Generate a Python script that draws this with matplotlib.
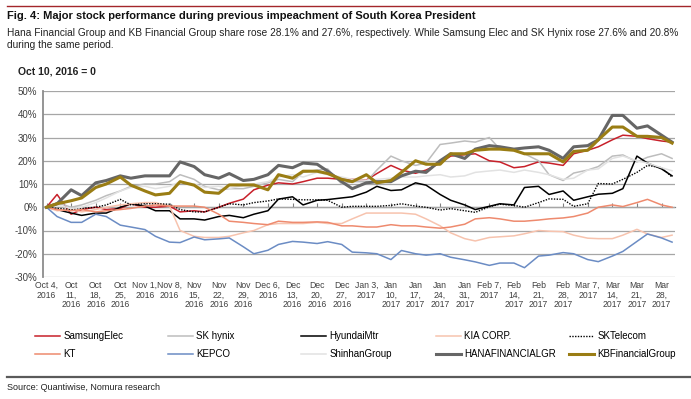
import pandas as pd
import matplotlib
matplotlib.use("Agg")
import matplotlib.pyplot as plt
import matplotlib.dates as mdates
from matplotlib.lines import Line2D

plt.rcParams['font.family'] = ['Liberation Sans', 'DejaVu Sans']
NARROW = ['Liberation Sans Narrow', 'Liberation Sans', 'DejaVu Sans']

# Datos muestreados martes y viernes (Oct 4, 2016 - Mar 31, 2017), % vs base
tuesdays = pd.date_range('2016-10-04', '2017-03-28', freq='W-TUE')
dates = tuesdays.append(tuesdays + pd.Timedelta(days=3)).sort_values()

samsung = [0, 5.5, -3, -1, 0, -1, -0.5, 1.5, 0, 0, 0.5, -2, -1.5, -2, 0, 1.7, 3.5, 7.5, 9.5, 10.5,
           10, 11, 12.5, 12.5, 12, 12, 11.7, 14.5, 18, 16, 14.6, 16, 19, 22, 22.6, 23, 20, 19.5, 17, 17.5,
           19.5, 19, 18, 23, 24.5, 26, 29, 31, 30.5, 29.5, 28.5, 28]
skhynix = [0, 2, 0, 1, 3, 5, 7, 9, 10, 10, 11, 14, 12, 9, 7.5, 8, 8, 9, 10.5, 12,
           11, 15, 16, 16.5, 10, 11, 11, 16, 22, 20, 18, 19, 27, 27.6, 28.5, 28, 30, 25, 24.5, 23,
           20, 14, 11.5, 14.7, 16, 17.5, 22, 22.5, 19.5, 21.5, 23, 21]
hyundai = [0, -1, -2.5, -3.5, -2.5, -2.5, 0, 1.5, 0.5, -1.5, -1.5, -5, -5, -5.5, -4, -3.5, -4.5, -3, -1.5, 3.5,
           4.5, 1, 3, 3.3, 4, 4.5, 6.5, 9, 7.2, 7.5, 10.5, 9.5, 5.5, 3, 1, -1, 0.4, 1.5, 1, 8.5,
           9, 5.5, 7, 3, 4.5, 5.6, 6, 8, 22, 19, 16.5, 13.5]
kia = [0, -1.5, -1, -2, -1, 0, 1, 1.5, 2, 2, 0.5, -10, -12.5, -13, -13, -12.5, -11, -10, -7.5, -7,
       -7, -7, -6.5, -7, -7, -5, -2.5, -2.5, -2.5, -2.5, -3, -5, -8, -11, -13.5, -14.5, -13, -12.7, -12.3, -11.4,
       -10, -10.3, -10.5, -12, -13.3, -13.5, -13.5, -12, -9.5, -11.5, -13, -12]
sktelecom = [0, -0.5, -1, -0.5, 0, 1, 3.4, 1, 1.5, 1.5, 1.3, -1, -2, -2, 0, 1.5, 1, 2, 2.7, 3.6,
             3.4, 3.2, 3.2, 3, 0, 0.4, 0.4, 0.4, 0.8, 1.5, 0.5, 0, -1.2, -0.6, -1.5, -2.2, 0.2, 1.3, 0.8, 0,
             2, 3.6, 3.4, 0.4, 1.5, 10.2, 10, 12, 15, 18, 17, 13]
kt = [0, -1, -1.5, -1, -2, -1.5, -1, -0.5, 0.5, 1, 0.5, 0.5, 0.5, 0, -3, -6, -6.5, -7, -7.5, -6,
      -6.5, -6.5, -6.3, -6.5, -8, -8, -8.5, -8.5, -7.5, -8, -8, -8.5, -9, -8.5, -7.3, -5, -4.5, -5, -6, -6,
      -5.5, -5, -4.6, -4, -2.5, 0, 1, 0.3, 2, 3.4, 1, 0]
kepco = [0, -4, -6.5, -6.5, -3, -4, -7.7, -8.5, -9.6, -12.5, -15, -15.2, -12.8, -14, -13.6, -13.2, -17, -20, -18.5, -16,
         -14.7, -15, -15.6, -14.8, -16, -19.3, -19.6, -20, -22.5, -18.6, -20, -20.6, -20, -21.5, -22.6, -23.5, -25, -24, -24, -26,
         -21, -20.6, -19.5, -20, -22.5, -23.4, -21, -19, -14.7, -11.5, -13.2, -15]
shinhan = [0, 1, -0.5, 0, 2, 4, 7, 8.5, 9, 8, 9, 11, 10, 8.5, 9, 8, 9.5, 10, 11, 13,
           14, 13, 15, 14, 13, 12, 11.6, 12, 12.5, 13, 13, 13.5, 14, 13, 13.5, 15, 15.6, 16, 15, 16,
           15, 14, 12, 12.5, 16, 16.5, 21, 22, 20, 19, 17, 15.7]
hana = [0, 1.5, 7.5, 5, 10.5, 11.5, 13.5, 12.5, 13.5, 13.5, 13.5, 19.5, 17.5, 14, 12.5, 14.5, 11.5, 12, 14, 18,
        17, 19, 18.5, 15.5, 11, 8, 10.5, 11, 11, 13.5, 15.5, 15, 20, 23, 21, 25, 26.5, 26, 25, 25.5,
        26, 24.5, 21, 26, 26.5, 29, 39.5, 39.5, 34, 35, 31, 28]
kb = [0, 1.5, 2.8, 4, 8.5, 10, 13, 9.5, 7, 5.3, 6, 11, 9.5, 6.5, 6, 9.6, 9.6, 9.6, 7.5, 14,
      12.5, 15.5, 15.5, 14.5, 12, 11, 14, 10.5, 11.5, 15, 20, 18.5, 18.5, 23, 23, 24.5, 25, 25, 24.5, 23,
      23, 23, 19.5, 24, 24.5, 29, 34.5, 34.5, 30.5, 30.5, 30, 27.6]

series = [
    ('SamsungElec', samsung, '#C8202A', 1.1, '-'),
    ('SK hynix', skhynix, '#BDBDBD', 1.1, '-'),
    ('HyundaiMtr', hyundai, '#000000', 1.1, '-'),
    ('KIA CORP.', kia, '#F7C3AE', 1.1, '-'),
    ('SKTelecom', sktelecom, '#000000', 1.0, (0, (1, 1))),
    ('KT', kt, '#EE8A6E', 1.1, '-'),
    ('KEPCO', kepco, '#6B8CC4', 1.1, '-'),
    ('ShinhanGroup', shinhan, '#E2E2E2', 1.1, '-'),
    ('HANAFINANCIALGR', hana, '#666666', 2.2, '-'),
    ('KBFinancialGroup', kb, '#9A7D14', 2.2, '-'),
]

W, H = 691, 399
fig = plt.figure(figsize=(W / 100, H / 100), dpi=100)
ax = fig.add_axes([43 / W, 1 - 277 / H, 632 / W, 186 / H])

handles = []
for name, vals, color, lw, ls in series:
    h, = ax.plot(dates, vals, color=color, lw=lw, ls=ls, label=name)
    handles.append(h)

ax.set_ylim(-30, 50)
ax.set_xlim(pd.Timestamp('2016-10-03'), pd.Timestamp('2017-03-31 20:00'))
ax.set_yticks(range(-30, 51, 10))
ax.yaxis.set_major_formatter(lambda v, p: f'{v:.0f}%')


def tick_label(d):
    if d.day < 10:
        return f'{d:%b} {d.day},\n{d.year}'
    return f'{d:%b}\n{d.day},\n{d.year}'


ax.set_xticks(tuesdays)
ax.set_xticklabels([tick_label(d) for d in tuesdays], family=NARROW, linespacing=1.05)
ax.tick_params(axis='x', length=0, pad=3, labelsize=6.2, colors='#404040')
ax.tick_params(axis='y', length=0, pad=4, labelsize=7, colors='#404040')
for lab in ax.get_yticklabels():
    lab.set_family(NARROW)
ax.grid(axis='y', color='#A6A6A6', lw=0.9)
ax.set_axisbelow(True)
for s in ['top', 'right', 'bottom']:
    ax.spines[s].set_visible(False)
ax.spines['left'].set_color('#8C8C8C')
ax.spines['left'].set_linewidth(1.3)

# eje horizontal en 0% con marcas semanales
sec = ax.secondary_xaxis(3 / 8)
sec.set_xticks(mdates.date2num(tuesdays))
sec.tick_params(axis='x', direction='in', length=3, width=0.8, color='#808080',
                bottom=True, top=False, labelbottom=False, labeltop=False)
for s in sec.spines.values():
    s.set_color('#808080')
    s.set_linewidth(0.9)

# encabezado
fig.add_artist(Line2D([7 / W, 1], [1 - 6 / H] * 2, color='#A3262A', lw=1.0))
fig.text(7 / W, 1 - 16 / H, 'Fig. 4: Major stock performance during previous impeachment of South Korea President',
         fontsize=8, weight='bold', va='center', color='#111111')
fig.text(7 / W, 1 - 33 / H, 'Hana Financial Group and KB Financial Group share rose 28.1% and 27.6%, respectively. '
         'While Samsung Elec and SK Hynix rose 27.6% and 20.8%', fontsize=7.25, va='center', color='#222222')
fig.text(7 / W, 1 - 45 / H, 'during the same period.', fontsize=7.25, va='center', color='#222222')
fig.text(18 / W, 1 - 72 / H, 'Oct 10, 2016 = 0', fontsize=7.5, weight='bold', va='center',
         family=NARROW, color='#222222')

# leyenda: 5 columnas x 2 filas
col_x = [35, 168, 301, 436, 569]
for i, x in enumerate(col_x):
    pair = [handles[i], handles[i + 5]]
    fig.legend(handles=pair, labels=[h.get_label() for h in pair], loc='upper left',
               bbox_to_anchor=(x / W, 1 - 331 / H), frameon=False, borderpad=0, borderaxespad=0,
               handlelength=2.6, handletextpad=0.3, labelspacing=0.85,
               prop={'family': NARROW, 'size': 7})

# pie
fig.add_artist(Line2D([7 / W, 1], [1 - 377 / H] * 2, color='#5A5A5A', lw=1.6))
fig.text(7 / W, 1 - 387 / H, 'Source: Quantiwise, Nomura research', fontsize=6.5, va='center', color='#222222')

fig.savefig('out.png', dpi=100)
